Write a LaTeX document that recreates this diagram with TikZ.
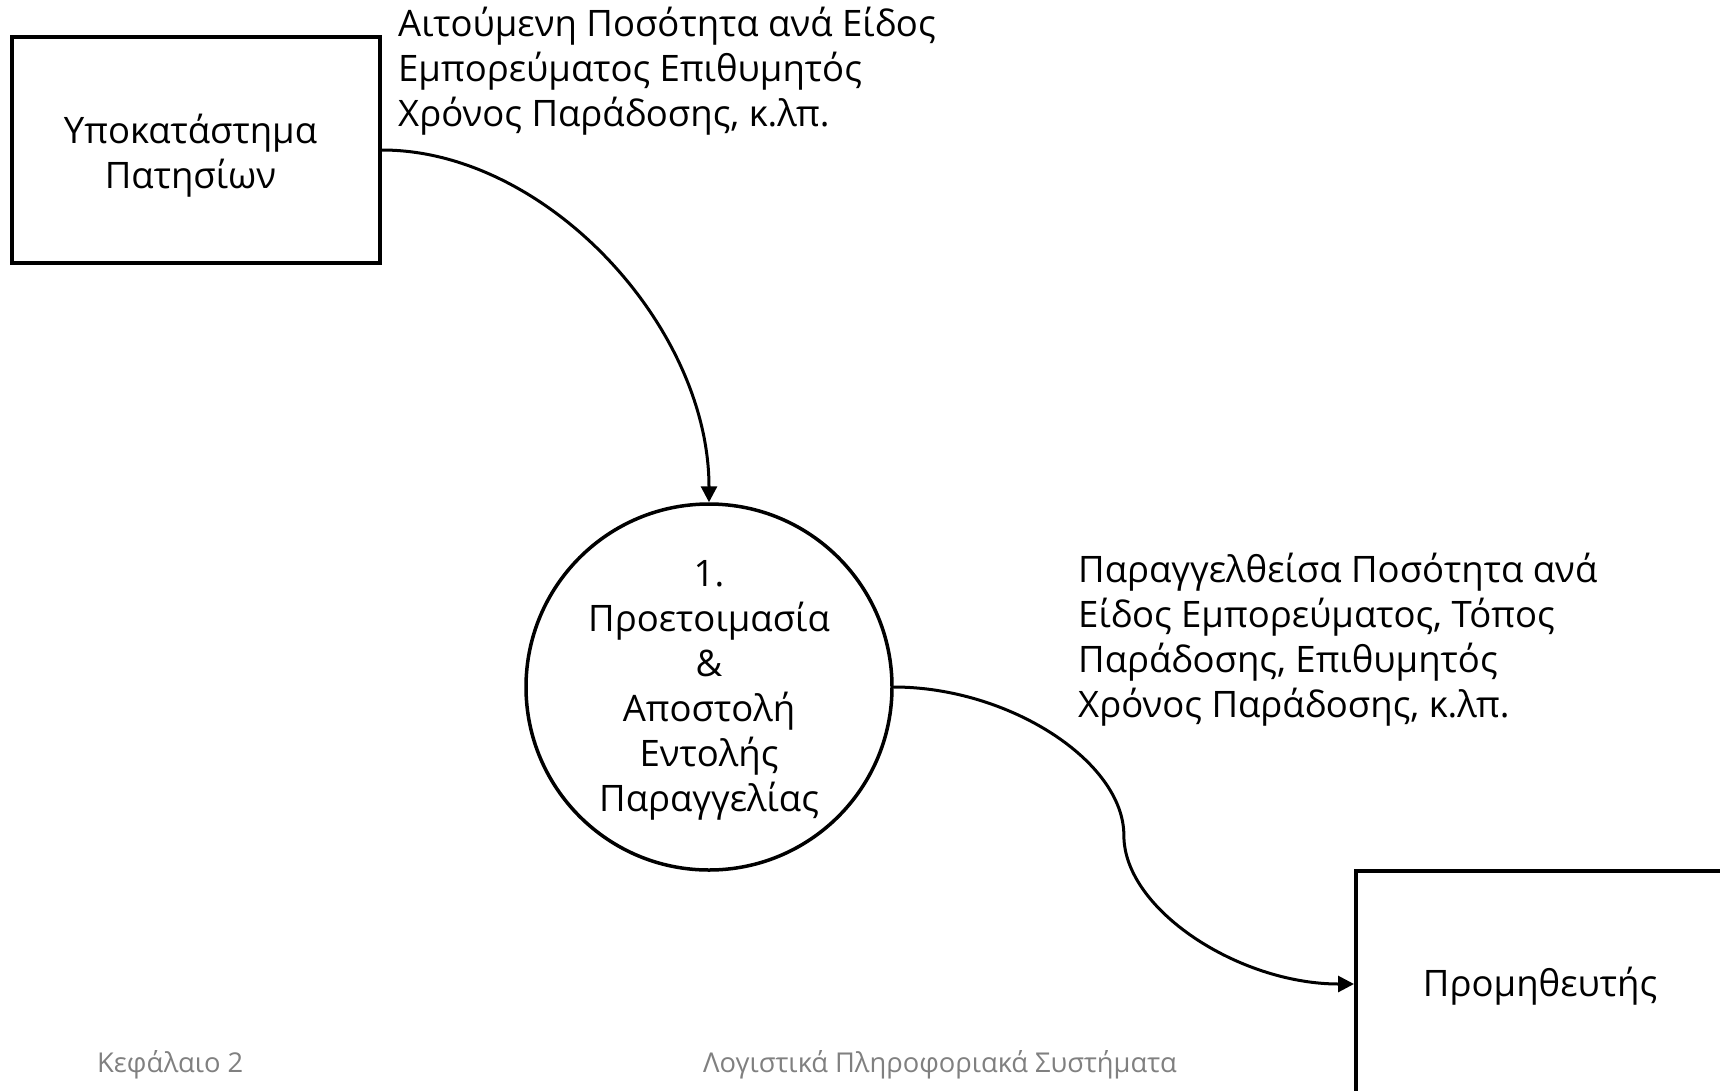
\documentclass[tikz,border=0pt]{standalone}
\usepackage{fontspec}
\setmainfont{Open Sans}
\usetikzlibrary{arrows.meta,calc}

% centred lines of text, moved left by #1 and down by #2 without changing the box size
\newcommand\shiftbox[3]{\raisebox{-#2}[\height][\depth]{\hspace*{-#1}\begin{tabular}{@{}c@{}}#3\end{tabular}\hspace*{#1}}}

\tikzset{
  entity/.style={draw, line width=4pt, minimum width=368pt, minimum height=226pt,
    inner sep=0pt, align=center, font=\fontsize{36.5}{45}\selectfont},
  process/.style={draw, circle, line width=3.5pt, minimum size=366pt, inner sep=0pt,
    align=center, font=\fontsize{36.5}{45}\selectfont},
  flowlabel/.style={inner sep=0pt, anchor=north west, align=left,
    font=\fontsize{36.5}{45}\selectfont},
  footer/.style={inner sep=0pt, anchor=base west, text=black!50,
    font=\fontsize{27.3}{30}\selectfont},
  flow/.style={line width=3pt, -{Triangle[length=16pt,width=16pt]}}
}

\begin{document}
\begin{tikzpicture}[x=1pt, y=-1pt]
  \clip (0,0) rectangle (1720,1090);
  \fill[white] (0,0) rectangle (1720,1090);

  % external entities and the process
  \node[entity] (branch) at (196,150) {\shiftbox{5.5pt}{6.6pt}{Υποκατάστημα\\Πατησίων}};
  \node[process] (proc) at (709,687)
    {\shiftbox{0pt}{3.3pt}{1.\\Προετοιμασία\\\&\\Αποστολή\\Εντολής\\Παραγγελίας}};
  \node[entity] (supplier) at (1540,984) {\shiftbox{0pt}{3pt}{Προμηθευτής}};

  % data flows
  \draw[flow] (branch.east) .. controls +(164,0) and +(0,-176) .. (proc.north);
  \coordinate (bend) at ($(proc.east)!0.5!(supplier.west)$);
  \draw[flow] (proc.east) .. controls +(115,0) and +(0,-74) .. (bend)
    .. controls +(0,74) and +(-115,0) .. (supplier.west);

  % flow labels
  \node[flowlabel] (lab1) at (398,7)
    {Αιτούμενη Ποσότητα ανά Είδος\\Εμπορεύματος Επιθυμητός\\Χρόνος Παράδοσης, κ.λπ.};
  \node[flowlabel] (lab2) at (1078,553)
    {Παραγγελθείσα Ποσότητα ανά\\Είδος Εμπορεύματος, Τόπος\\Παράδοσης, Επιθυμητός\\Χρόνος Παράδοσης, κ.λπ.};

  % page footer
  \node[footer] (chap) at (97,1072) {Κεφάλαιο 2};
  \node[footer] (title) at (703,1072) {Λογιστικά Πληροφοριακά Συστήματα};
\end{tikzpicture}
\end{document}
